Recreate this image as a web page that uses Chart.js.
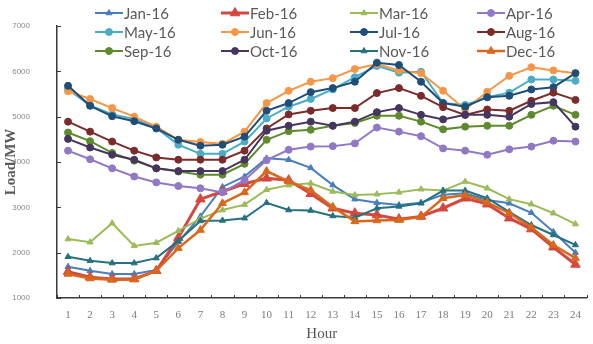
<!DOCTYPE html>
<html>
<head>
<meta charset="utf-8">
<script src="https://cdn.jsdelivr.net/npm/chart.js@4/dist/chart.umd.min.js"></script>
<style>
  html, body { margin: 0; padding: 0; background: #ffffff; }
  #c { display: block; }
</style>
</head>
<body>
<canvas id="c" width="593" height="344"></canvas>
<script>
// Hourly load profile (MW) for each month of 2016
const hours = ['1','2','3','4','5','6','7','8','9','10','11','12','13','14','15','16','17','18','19','20','21','22','23','24'];
const monthNames = ['Jan-16','Feb-16','Mar-16','Apr-16','May-16','Jun-16','Jul-16','Aug-16','Sep-16','Oct-16','Nov-16','Dec-16'];

const jan = [1690,1600,1530,1530,1620,2240,2800,3450,3680,4080,4050,3870,3490,3180,3100,3050,3100,3280,3310,3160,3090,2880,2460,2000];
const feb = [1580,1460,1420,1420,1600,2330,3180,3350,3520,3640,3600,3300,2980,2870,2830,2740,2800,2980,3200,3070,2760,2520,2120,1740];
const mar = [2300,2230,2650,2150,2220,2480,2750,2940,3060,3390,3490,3530,3350,3270,3290,3330,3400,3370,3570,3420,3180,3070,2870,2630];
const apr = [4250,4060,3860,3680,3550,3470,3420,3330,3600,4040,4270,4340,4350,4410,4760,4670,4570,4300,4250,4160,4280,4340,4470,4450];
const may = [5600,5250,5050,4950,4750,4380,4180,4180,4450,4960,5220,5390,5600,5870,6120,5970,5990,5300,5260,5430,5530,5820,5820,5790];
const jun = [5560,5390,5190,5000,4780,4490,4440,4400,4670,5300,5570,5770,5850,6050,6160,6020,5960,5570,5160,5550,5900,6090,6020,5960];
const jul = [5680,5240,5010,4900,4740,4490,4360,4380,4560,5130,5300,5540,5630,5770,6190,6140,5770,5300,5220,5430,5460,5600,5650,5960];
const aug = [4890,4670,4450,4250,4100,4050,4050,4050,4250,4740,5050,5130,5190,5190,5520,5630,5460,5210,5040,5160,5130,5350,5530,5370];
const sep = [4650,4460,4200,4030,3860,3790,3720,3720,3960,4490,4680,4710,4800,4860,5020,5020,4890,4720,4780,4800,4800,5040,5240,5040];
const oct = [4510,4320,4160,4050,3860,3800,3800,3800,4050,4690,4800,4890,4800,4890,5100,5190,5040,4940,5040,5040,5000,5280,5320,4780];
const nov = [1910,1820,1770,1770,1880,2260,2700,2710,2760,3100,2940,2930,2810,2770,2980,3020,3090,3370,3370,3200,2900,2610,2390,2170];
const dec = [1530,1430,1400,1410,1600,2100,2500,3090,3330,3800,3570,3380,3010,2690,2710,2720,2790,3200,3270,3110,2870,2560,2170,1880];

const yTicks = [1000,2000,3000,4000,5000,6000,7000];

const seriesValues = [jan, feb, mar, apr, may, jun, jul, aug, sep, oct, nov, dec];
const seriesColors = ['#4a7ebb','#d4483f','#9bbb59','#9178c4','#4bacc6','#f79646','#1f4e79','#7b2c2a','#5e8a2e','#46365f','#26717f','#d8691c'];
const seriesMarkers = ['triangle','triangle','triangle','circle','circle','circle','circle','circle','circle','circle','triangle','triangle'];
const seriesRadius = [3.5,5.5,3.5,3.5,3.5,3.5,3.5,3.5,3.5,3.5,3.5,4.5];
const seriesWidth = [2,3,2,2,2,2,2,2,2,2,2,2.5];

const datasets = seriesValues.map((vals, i) => ({
  label: monthNames[i],
  data: vals,
  borderColor: seriesColors[i],
  backgroundColor: seriesColors[i],
  pointBackgroundColor: seriesColors[i],
  pointBorderColor: seriesColors[i],
  pointStyle: seriesMarkers[i],
  pointRadius: seriesRadius[i],
  pointBorderWidth: 1,
  borderWidth: seriesWidth[i],
  tension: 0,
  fill: false,
  order: -i
}));

// Short inward tick marks on both axes
const axisTicks = {
  id: 'axisTicks',
  afterDraw(chart) {
    const ctx = chart.ctx;
    const xs = chart.scales.x, ys = chart.scales.y;
    const area = chart.chartArea;
    ctx.save();
    ctx.strokeStyle = '#3a3a3a';
    ctx.lineWidth = 1;
    const n = hours.length;
    const step = xs.getPixelForValue(1) - xs.getPixelForValue(0);
    for (let i = 0; i <= n; i++) {
      const x = Math.round(xs.getPixelForValue(0) - step / 2 + i * step) + 0.5;
      ctx.beginPath();
      ctx.moveTo(x, area.bottom);
      ctx.lineTo(x, area.bottom - 3);
      ctx.stroke();
    }
    yTicks.forEach(v => {
      const y = Math.round(ys.getPixelForValue(v)) + 0.5;
      ctx.beginPath();
      ctx.moveTo(area.left, y);
      ctx.lineTo(area.left + 4, y);
      ctx.stroke();
    });
    ctx.restore();
  }
};

// Four-column legend laid over the top of the plot
const gridLegend = {
  id: 'gridLegend',
  afterDraw(chart) {
    const ctx = chart.ctx;
    const colX = [95, 221, 350, 477];
    const rowY = [13, 32, 51];
    const lineLen = 28;
    ctx.save();
    chart.data.datasets.forEach((ds, i) => {
      const x = colX[i % 4];
      const y = rowY[Math.floor(i / 4)];
      ctx.strokeStyle = ds.borderColor;
      ctx.lineWidth = ds.borderWidth;
      ctx.beginPath();
      ctx.moveTo(x, y);
      ctx.lineTo(x + lineLen, y);
      ctx.stroke();
      ctx.fillStyle = ds.pointBackgroundColor;
      ctx.strokeStyle = ds.pointBorderColor;
      ctx.lineWidth = 1;
      Chart.helpers.drawPoint(ctx, {
        pointStyle: ds.pointStyle,
        radius: ds.pointRadius,
        rotation: 0,
        borderWidth: 1
      }, x + lineLen / 2, y);
      ctx.fillStyle = '#595959';
      ctx.font = '15px Lato, "Open Sans", sans-serif';
      ctx.textBaseline = 'middle';
      ctx.textAlign = 'left';
      ctx.fillText(ds.label, x + lineLen + 1, y + 1);
    });
    ctx.restore();
  }
};

new Chart(document.getElementById('c'), {
  type: 'line',
  data: { labels: hours, datasets },
  options: {
    responsive: false,
    animation: false,
    devicePixelRatio: 1,
    layout: { padding: { top: 26, right: 0, bottom: 0, left: 0 } },
    plugins: {
      legend: { display: false },
      tooltip: { enabled: false }
    },
    scales: {
      x: {
        offset: true,
        grid: { display: false },
        border: { display: true, color: '#3a3a3a', width: 1.5 },
        ticks: {
          color: '#7a7a7a',
          font: { family: '"Liberation Serif", "DejaVu Serif", serif', size: 11 },
          padding: 3,
          maxRotation: 0,
          autoSkip: false
        },
        title: {
          display: true,
          text: 'Hour',
          color: '#555555',
          font: { family: '"Liberation Serif", "DejaVu Serif", serif', size: 15 },
          padding: { top: 0, bottom: 1 }
        },
        afterFit(scale) { scale.height = 46; }
      },
      y: {
        min: yTicks[0],
        max: yTicks[yTicks.length - 1],
        afterBuildTicks(scale) { scale.ticks = yTicks.map(v => ({ value: v })); },
        grid: { display: false },
        border: { display: true, color: '#3a3a3a', width: 1.5 },
        ticks: {
          color: '#8a8a8a',
          font: { family: '"Liberation Sans Narrow", "Liberation Sans", sans-serif', size: 8 },
          padding: 19,
          callback: (v) => String(v)
        },
        title: {
          display: true,
          text: 'Load/MW',
          color: '#5a5a5a',
          font: { family: '"Liberation Serif", "DejaVu Serif", serif', size: 15, weight: 'bold' },
          padding: { top: 2, bottom: 0 }
        },
        afterFit(scale) { scale.width = 57; }
      }
    }
  },
  plugins: [axisTicks, gridLegend]
});
</script>
</body>
</html>
